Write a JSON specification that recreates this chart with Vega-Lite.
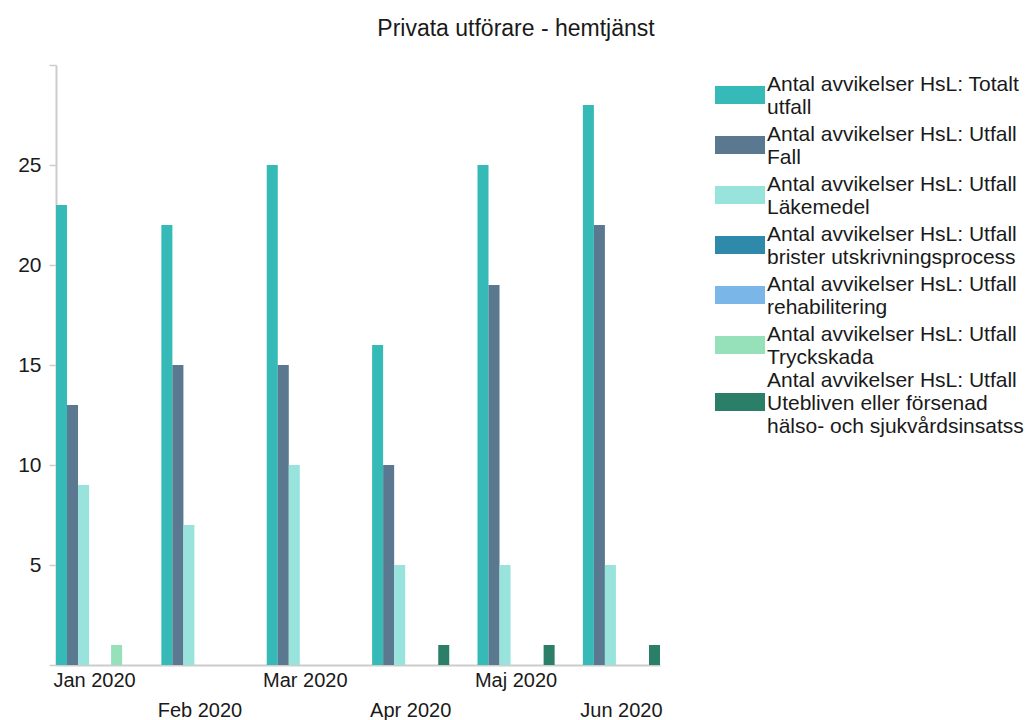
{
  "$schema": "https://vega.github.io/schema/vega-lite/v6.json",
  "autosize": {"type": "none"},
  "width": 604,
  "height": 600,
  "padding": {"left": 56, "top": 65, "right": 367, "bottom": 55},
  "background": "white",
  "config": {
    "font": "Liberation Sans",
    "view": {"stroke": null}
  },
  "title": {
    "text": "Privata utförare - hemtjänst",
    "fontSize": 23,
    "fontWeight": "normal",
    "color": "#1a1a1a",
    "anchor": "middle",
    "frame": "group",
    "dx": 158,
    "offset": 23
  },
  "data": {
    "values": [
      {"month": "Jan 2020", "series": "Antal avvikelser HsL: Totalt utfall", "value": 23},
      {"month": "Jan 2020", "series": "Antal avvikelser HsL: Utfall Fall", "value": 13},
      {"month": "Jan 2020", "series": "Antal avvikelser HsL: Utfall Läkemedel", "value": 9},
      {"month": "Jan 2020", "series": "Antal avvikelser HsL: Utfall Tryckskada", "value": 1},
      {"month": "Feb 2020", "series": "Antal avvikelser HsL: Totalt utfall", "value": 22},
      {"month": "Feb 2020", "series": "Antal avvikelser HsL: Utfall Fall", "value": 15},
      {"month": "Feb 2020", "series": "Antal avvikelser HsL: Utfall Läkemedel", "value": 7},
      {"month": "Mar 2020", "series": "Antal avvikelser HsL: Totalt utfall", "value": 25},
      {"month": "Mar 2020", "series": "Antal avvikelser HsL: Utfall Fall", "value": 15},
      {"month": "Mar 2020", "series": "Antal avvikelser HsL: Utfall Läkemedel", "value": 10},
      {"month": "Apr 2020", "series": "Antal avvikelser HsL: Totalt utfall", "value": 16},
      {"month": "Apr 2020", "series": "Antal avvikelser HsL: Utfall Fall", "value": 10},
      {"month": "Apr 2020", "series": "Antal avvikelser HsL: Utfall Läkemedel", "value": 5},
      {"month": "Apr 2020", "series": "Antal avvikelser HsL: Utfall Utebliven eller försenad hälso- och sjukvårdsinsats", "value": 1},
      {"month": "Maj 2020", "series": "Antal avvikelser HsL: Totalt utfall", "value": 25},
      {"month": "Maj 2020", "series": "Antal avvikelser HsL: Utfall Fall", "value": 19},
      {"month": "Maj 2020", "series": "Antal avvikelser HsL: Utfall Läkemedel", "value": 5},
      {"month": "Maj 2020", "series": "Antal avvikelser HsL: Utfall Utebliven eller försenad hälso- och sjukvårdsinsats", "value": 1},
      {"month": "Jun 2020", "series": "Antal avvikelser HsL: Totalt utfall", "value": 28},
      {"month": "Jun 2020", "series": "Antal avvikelser HsL: Utfall Fall", "value": 22},
      {"month": "Jun 2020", "series": "Antal avvikelser HsL: Utfall Läkemedel", "value": 5},
      {"month": "Jun 2020", "series": "Antal avvikelser HsL: Utfall Utebliven eller försenad hälso- och sjukvårdsinsats", "value": 1}
    ]
  },
  "mark": {"type": "bar"},
  "encoding": {
    "x": {
      "field": "month",
      "type": "nominal",
      "sort": ["Jan 2020", "Feb 2020", "Mar 2020", "Apr 2020", "Maj 2020", "Jun 2020"],
      "scale": {"paddingInner": 0.268, "paddingOuter": 0},
      "axis": {
        "title": null,
        "labelAngle": 0,
        "ticks": false,
        "domainColor": "#cccccc",
        "domainWidth": 2,
        "labelFontSize": 20,
        "labelColor": "#1a1a1a",
        "labelPadding": 5,
        "labelLineHeight": 30,
        "labelBaseline": "top",
        "labelExpr": "indexof(['Feb 2020','Apr 2020','Jun 2020'], datum.value) >= 0 ? ['', datum.value] : datum.value"
      }
    },
    "xOffset": {
      "field": "series",
      "type": "nominal",
      "scale": {
        "domain": [
          "Antal avvikelser HsL: Totalt utfall",
          "Antal avvikelser HsL: Utfall Fall",
          "Antal avvikelser HsL: Utfall Läkemedel",
          "Antal avvikelser HsL: Utfall brister utskrivningsprocess",
          "Antal avvikelser HsL: Utfall rehabilitering",
          "Antal avvikelser HsL: Utfall Tryckskada",
          "Antal avvikelser HsL: Utfall Utebliven eller försenad hälso- och sjukvårdsinsats"
        ],
        "paddingInner": 0,
        "paddingOuter": 0
      }
    },
    "y": {
      "field": "value",
      "type": "quantitative",
      "scale": {"domain": [0, 30], "nice": false},
      "axis": {
        "title": null,
        "grid": false,
        "values": [0, 5, 10, 15, 20, 25, 30],
        "labelExpr": "datum.value == 0 || datum.value == 30 ? '' : datum.label",
        "domainColor": "#cccccc",
        "domainWidth": 2,
        "tickColor": "#cccccc",
        "tickWidth": 1.5,
        "tickSize": 7,
        "labelFontSize": 21,
        "labelColor": "#1a1a1a",
        "labelPadding": 8
      }
    },
    "color": {
      "field": "series",
      "type": "nominal",
      "scale": {
        "domain": [
          "Antal avvikelser HsL: Totalt utfall",
          "Antal avvikelser HsL: Utfall Fall",
          "Antal avvikelser HsL: Utfall Läkemedel",
          "Antal avvikelser HsL: Utfall brister utskrivningsprocess",
          "Antal avvikelser HsL: Utfall rehabilitering",
          "Antal avvikelser HsL: Utfall Tryckskada",
          "Antal avvikelser HsL: Utfall Utebliven eller försenad hälso- och sjukvårdsinsats"
        ],
        "range": ["#35BAB8", "#5A7890", "#98E3DC", "#2E89AB", "#7AB6E8", "#96E0BA", "#2B7F69"]
      },
      "legend": {
        "title": null,
        "orient": "none",
        "legendX": 659,
        "legendY": 5,
        "padding": 0,
        "gridAlign": "none",
        "symbolType": "M-1,-0.36H1V0.36H-1Z",
        "symbolSize": 2500,
        "symbolStrokeWidth": 0,
        "symbolOpacity": 1,
        "labelFontSize": 21,
        "labelColor": "#1a1a1a",
        "labelLimit": 400,
        "labelOffset": 2,
        "labelLineHeight": 21,
        "rowPadding": 2,
        "labelExpr": "datum.value == 'Antal avvikelser HsL: Totalt utfall' ? ['Antal avvikelser HsL: Totalt', 'utfall'] : indexof(datum.value, 'Utebliven') >= 0 ? ['Antal avvikelser HsL: Utfall', 'Utebliven eller  försenad', 'hälso- och sjukvårdsinsatss'] : ['Antal avvikelser HsL: Utfall', replace(datum.value, 'Antal avvikelser HsL: Utfall ', '')]",
        "encode": {
          "labels": {
            "update": {
              "dy": {"signal": "indexof(datum.value, 'Utebliven') >= 0 ? -21 : -10.5"}
            }
          }
        }
      }
    }
  }
}
